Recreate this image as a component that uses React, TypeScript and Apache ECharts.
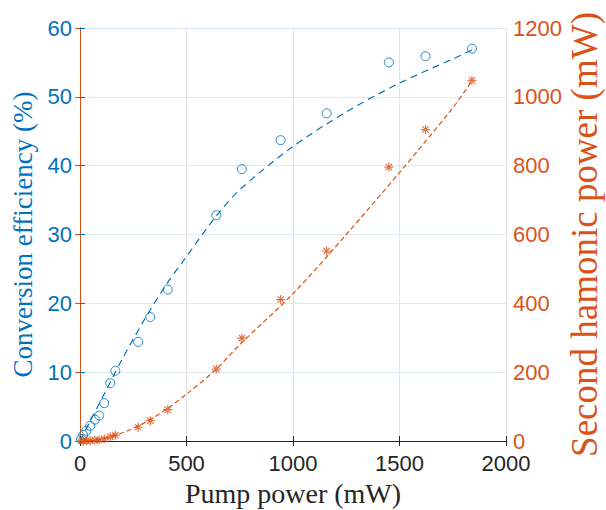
import React, { useEffect, useRef } from "react";
import * as echarts from "echarts";

const pumpPower = [5, 15, 30, 48, 70, 90, 114, 142, 166, 273, 330, 412, 640, 760, 942, 1158, 1450, 1622, 1840];
const efficiency = [0.3, 0.9, 1.5, 2.2, 3.1, 3.7, 5.5, 8.4, 10.2, 14.4, 18, 22, 32.8, 39.5, 43.7, 47.6, 55, 55.9, 57];
const shPower = [0, 0.1, 0.5, 1, 2, 3.3, 6.3, 12, 17, 40, 59, 91, 209, 299, 411, 552, 796, 905, 1048];

const fitPump = [0, 100, 200, 300, 400, 500, 640, 750, 1000, 1250, 1500, 1750, 1840];
const fitEfficiency = [0, 6, 12, 17.5, 22.5, 26.8, 32.7, 36.5, 42.8, 47.8, 52, 55.5, 56.8];
const fitShPower = [0, 6, 24, 52, 90, 136, 209, 280, 428, 600, 780, 968, 1046];

const xTicks = { min: 0, max: 2000, interval: 500 };
const leftTicks = { min: 0, max: 60, interval: 10 };
const rightTicks = { min: 0, max: 1200, interval: 200 };

const BLUE = "#0072BD";
const ORANGE = "#D95319";
const DARK = "#262626";

const STAR = "path://M0 -10 L0 10 M-10 0 L10 0 M-7 -7 L7 7 M-7 7 L7 -7";

export default function App() {
  const ref = useRef<HTMLDivElement>(null);
  useEffect(() => {
    if (!ref.current) return;
    const chart = echarts.init(ref.current, undefined, { renderer: "svg" });
    const pair = (xs: number[], ys: number[]) => xs.map((x, i) => [x, ys[i]]);
    const plain = (v: number) => String(v);
    chart.setOption({
      animation: false,
      backgroundColor: "#ffffff",
      grid: { left: 80, right: 100, top: 28, bottom: 69, containLabel: false, outerBoundsMode: "none" },
      xAxis: [
        {
          type: "value",
          position: "bottom",
          ...xTicks,
          name: "Pump power (mW)",
          nameLocation: "middle",
          nameGap: 38,
          nameMoveOverlap: false,
          nameTextStyle: { fontFamily: "Liberation Serif", fontSize: 28, color: DARK },
          axisLine: { show: true, lineStyle: { color: DARK, width: 1 } },
          axisTick: { show: true, inside: true, length: 5, lineStyle: { color: DARK } },
          axisLabel: { color: DARK, fontFamily: "Liberation Sans", fontSize: 22, margin: 11, formatter: plain },
          splitLine: { show: true, lineStyle: { color: "#e3e3e3", width: 1 } },
        },
        {
          type: "value",
          position: "top",
          ...xTicks,
          axisLine: { show: true, lineStyle: { color: DARK, width: 1 } },
          axisTick: { show: true, inside: true, length: 5, lineStyle: { color: DARK } },
          axisLabel: { show: false },
          splitLine: { show: false },
        },
      ],
      yAxis: [
        {
          type: "value",
          position: "left",
          ...leftTicks,
          name: "Conversion efficiency (%)",
          nameLocation: "middle",
          nameRotate: 90,
          nameGap: 44,
          nameMoveOverlap: false,
          nameTextStyle: { fontFamily: "Liberation Serif", fontSize: 27, color: BLUE },
          axisLine: { show: true, lineStyle: { color: BLUE, width: 1 } },
          axisTick: { show: true, inside: true, length: 5, lineStyle: { color: BLUE } },
          axisLabel: { color: BLUE, fontFamily: "Liberation Sans", fontSize: 22, margin: 8, formatter: plain },
          splitLine: { show: true, lineStyle: { color: "#dde9f4", width: 1 } },
        },
        {
          type: "value",
          position: "right",
          ...rightTicks,
          name: "Second hamonic power (mW)",
          nameLocation: "middle",
          nameRotate: 90,
          nameGap: 60,
          nameMoveOverlap: false,
          nameTextStyle: { fontFamily: "Liberation Serif", fontSize: 37, lineHeight: 36, color: ORANGE },
          axisLine: { show: true, lineStyle: { color: ORANGE, width: 1 } },
          axisTick: { show: true, inside: true, length: 5, lineStyle: { color: ORANGE } },
          axisLabel: { color: ORANGE, fontFamily: "Liberation Sans", fontSize: 22, margin: 7, formatter: plain },
          splitLine: { show: false },
        },
      ],
      series: [
        {
          type: "line",
          xAxisIndex: 0,
          yAxisIndex: 0,
          data: pair(fitPump, fitEfficiency),
          smooth: 0.3,
          showSymbol: false,
          symbol: "none",
          lineStyle: { color: BLUE, width: 1.2, type: [7, 5] },
          z: 2,
        },
        {
          type: "line",
          xAxisIndex: 0,
          yAxisIndex: 1,
          data: pair(fitPump, fitShPower),
          smooth: 0.3,
          showSymbol: false,
          symbol: "none",
          lineStyle: { color: ORANGE, width: 1.2, type: [5, 3] },
          z: 2,
        },
        {
          type: "scatter",
          xAxisIndex: 0,
          yAxisIndex: 0,
          data: pair(pumpPower, efficiency),
          symbol: "circle",
          symbolSize: 9,
          itemStyle: { color: "rgba(0,0,0,0)", borderColor: BLUE, borderWidth: 1, opacity: 0.85 },
          z: 3,
        },
        {
          type: "scatter",
          xAxisIndex: 0,
          yAxisIndex: 1,
          data: pair(pumpPower, shPower),
          symbol: STAR,
          symbolSize: 9,
          itemStyle: { color: "none", borderColor: ORANGE, borderWidth: 1.2 },
          z: 3,
        },
      ],
    });
    return () => chart.dispose();
  }, []);
  return <div ref={ref} style={{ position: "fixed", left: 0, top: 0, width: 606, height: 510 }} />;
}
